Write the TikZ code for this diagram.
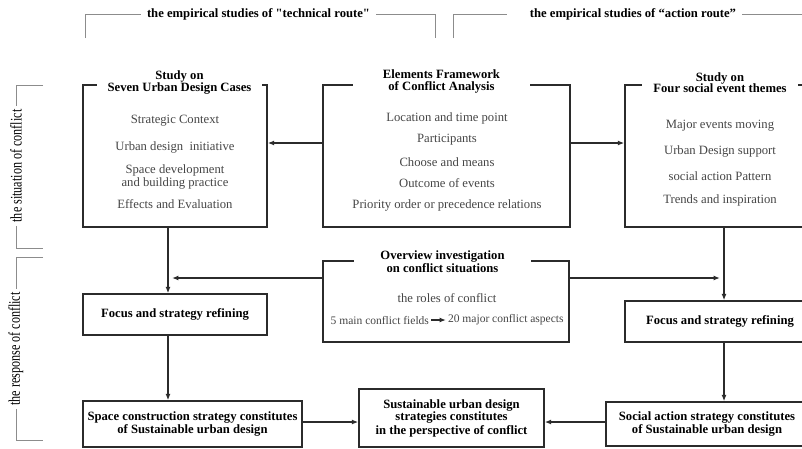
\documentclass[tikz,border=0pt]{standalone}
\usepackage{fontspec}
\setmainfont{Liberation Serif}
\newfontfamily\narrowserif[FakeStretch=0.75]{Liberation Serif}
\usetikzlibrary{arrows.meta, positioning, calc}
\definecolor{cink}{HTML}{2B2B2B}
\definecolor{ctext}{HTML}{454545}
\definecolor{cgrey}{HTML}{8C8C8C}
\tikzset{
  every picture/.style={line width=0.9pt},
  box/.style={draw=cink, line width=1pt, align=center, inner sep=2pt, font=\fontsize{9}{8}\selectfont\bfseries},
  heading/.style={fill=white, inner sep=1pt, align=center, anchor=south, font=\fontsize{9}{8.2}\selectfont\bfseries},
  item/.style={text=ctext, align=center, inner sep=1pt, font=\fontsize{9}{8}\selectfont},
  arrow/.style={-{Latex[length=4.5pt,width=3.5pt]}, draw=cink, line width=0.9pt},
  bracket/.style={draw=cgrey, line width=0.7pt},
  side/.style={fill=white, inner sep=2pt, rotate=90, font=\narrowserif\fontsize{11.5}{11}\selectfont},
  route/.style={inner xsep=4pt, font=\fontsize{9}{9}\selectfont\bfseries},
}

\begin{document}
\begin{tikzpicture}[x=0.025cm, y=-0.025cm]
  \useasboundingbox (0,0) rectangle (802,448);
  % rows and spines for the connectors
  \coordinate (row1) at (0,143);
  \coordinate (row3) at (0,422);
  \coordinate (lspine) at (168,0);
  \coordinate (rspine) at (724,0);
  \coordinate (lhit) at (172,278);
  \coordinate (rhit) at (720,278);

  % the two routes on top
  \node[route] (tech) at (258.5,14) {the empirical studies of \textquotedbl technical route\textquotedbl};
  \node[route] (act) at (633,14) {the empirical studies of ``action route''};
  \draw[bracket] (85,38) |- (tech.west);
  \draw[bracket] (tech.east) -| (435,38);
  \coordinate (actl) at (453,38);
  \coordinate (actr) at (810,14);
  \draw[bracket] (actl) |- ([xshift=-12pt]act.west);
  \draw[bracket] (act.east) -- (actr);

  % the two stages on the left
  \node[side] (sit) at (16,166) {the situation of conflict};
  \draw[bracket] (43,85) -| (sit.east);
  \draw[bracket] (sit.west) |- (43,248);
  \node[side] (resp) at (16,349) {the response of conflict};
  \draw[bracket] (43,257) -| (resp.east);
  \draw[bracket] (resp.west) |- (43,440);

  % upper row
  \node[box, minimum width=4.6cm, minimum height=3.55cm] (lcase) at (175,156) {};
  \node[box, minimum width=6.175cm, minimum height=3.55cm] (frame) at (446.5,156) {};
  \node[box, minimum width=4.75cm, minimum height=3.55cm] (theme) at (720,156) {};
  \node[heading, minimum width=4.1cm] (lcaset) at (179.5,96) {Study on\\Seven Urban Design Cases};
  \node[heading, minimum width=4.4cm] (framet) at (441.5,95) {Elements Framework\\of Conflict Analysis};
  \node[heading, minimum width=3.9cm] (themet) at (720,95) {Study on\\Four social event themes};
  \foreach \y/\t [count=\i] in {121/Strategic Context, 147/Urban design~~initiative,
      177/{Space development\\and building practice}, 204/Effects and Evaluation}
    \node[item] (lc\i) at (175,\y) {\t};
  \foreach \y/\t [count=\i] in {118/Location and time point, 140/Participants, 162/Choose and means,
      183/Outcome of events, 205/Priority order or precedence relations}
    \node[item] (fr\i) at (447,\y) {\t};
  \foreach \y/\t [count=\i] in {126/Major events moving, 151/Urban Design support,
      176/social action Pattern, 200/Trends and inspiration}
    \node[item] (th\i) at (720,\y) {\t};

  % middle row
  \node[box, minimum width=6.15cm, minimum height=2.025cm] (overview) at (446,301.5) {};
  \node[heading, minimum width=4.4cm] (overviewt) at (442.5,275) {Overview investigation\\on conflict situations};
  \node[item] (roles) at (447,298) {the roles of conflict};
  \node[item, anchor=east, font=\fontsize{8.2}{8}\selectfont] (fields) at (431,320) {5 main conflict fields};
  \node[item, anchor=west, font=\fontsize{8.2}{8}\selectfont] (aspects) at (446,320) {20 major conflict aspects};
  \draw[arrow] (fields) -- (aspects);
  \node[box, minimum width=4.6cm, minimum height=1.025cm] (lfocus) at (175,314.5) {Focus and strategy refining};
  \node[box, minimum width=4.75cm, minimum height=1.025cm] (rfocus) at (720,321.5) {Focus and strategy refining};

  % lower row
  \node[box, minimum width=5.475cm, minimum height=1.15cm] (space) at (192.5,424)
    {Space construction strategy constitutes\\of Sustainable urban design};
  \node[box, minimum width=4.625cm, minimum height=1.45cm] (goal) at (451.5,418)
    {Sustainable urban design\\strategies constitutes\\in the perspective of conflict};
  \node[box, minimum width=5.05cm, minimum height=1.1cm] (social) at (707,424)
    {Social action strategy constitutes\\of Sustainable urban design};

  % connectors
  \draw[arrow] (frame.west |- row1) -- (lcase.east |- row1);
  \draw[arrow] (frame.east |- row1) -- (theme.west |- row1);
  \draw[arrow] (overview.west |- lhit) -- (lhit);
  \draw[arrow] (overview.east |- rhit) -- (rhit);
  \draw[arrow] (lcase.south -| lspine) -- (lfocus.north -| lspine);
  \draw[arrow] (lfocus.south -| lspine) -- (space.north -| lspine);
  \draw[arrow] (theme.south -| rspine) -- (rfocus.north -| rspine);
  \draw[arrow] (rfocus.south -| rspine) -- (social.north -| rspine);
  \draw[arrow] (space.east |- row3) -- (goal.west |- row3);
  \draw[arrow] (social.west |- row3) -- (goal.east |- row3);
\end{tikzpicture}
\end{document}
